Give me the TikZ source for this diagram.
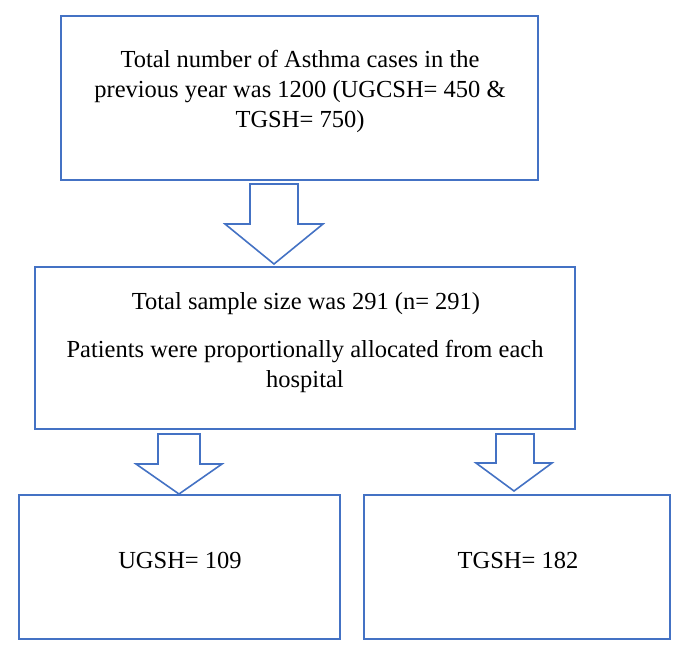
\documentclass[tikz,border=0pt]{standalone}
\usepackage{fontspec}
\setmainfont{Liberation Serif}
\definecolor{boxblue}{HTML}{4472C4}
\begin{document}
\begin{tikzpicture}[x=1pt,y=-1pt,
  box/.style={draw=boxblue,line width=1.6pt,fill=none},
  blockarrow/.style={draw=boxblue,line width=1.6pt,line join=miter,fill=white},
  txt/.style={anchor=base,inner sep=0pt,font=\fontsize{24.5}{30}\selectfont}]
\useasboundingbox (0,0) rectangle (685,652);
% boxes
\draw[box] (61,16) rectangle (538,180) coordinate (b1);
\draw[box] (35,267) rectangle (575,429) coordinate (b2);
\draw[box] (19,495) rectangle (340,639) coordinate (b3);
\draw[box] (364,495) rectangle (670,639) coordinate (b4);
% block arrows
\draw[blockarrow] (250,184) -- (298,184) -- (298,224) -- (323,224) -- (274,264) -- (225,224) -- (250,224) -- cycle;
\draw[blockarrow] (158,434) -- (200,434) -- (200,464) -- (222,464) -- (179,494) -- (136,464) -- (158,464) -- cycle;
\draw[blockarrow] (496,434) -- (534,434) -- (534,463) -- (552,463) -- (514,491) -- (476,463) -- (496,463) -- cycle;
% texts
\node[txt] (t1a) at (300,68) {Total number of Asthma cases in the};
\node[txt] (t1b) at (300,98) {previous year was 1200 (UGCSH= 450 \&};
\node[txt] (t1c) at (300,128) {TGSH= 750)};
\node[txt] (t2a) at (306,309) {Total sample size was 291 (n= 291)};
\node[txt] (t2b) at (305,357) {Patients were proportionally allocated from each};
\node[txt] (t2c) at (305,387) {hospital};
\node[txt] (t3) at (180,568) {UGSH= 109};
\node[txt] (t4) at (518,568) {TGSH= 182};
\end{tikzpicture}
\end{document}
